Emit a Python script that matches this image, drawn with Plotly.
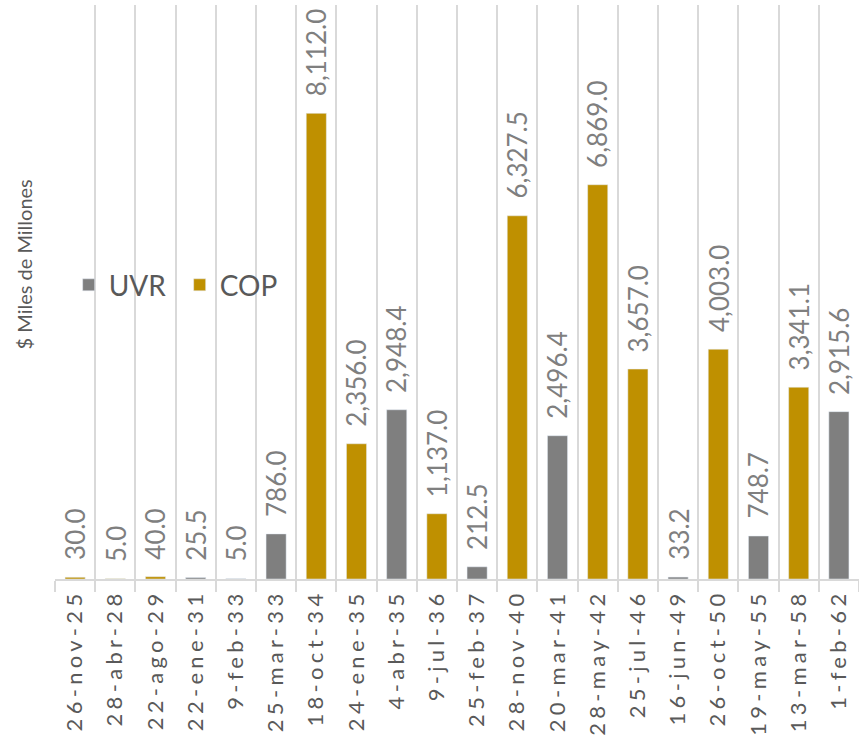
import plotly.graph_objects as go

categories = ["26-nov-25", "28-abr-28", "22-ago-29", "22-ene-31", "9-feb-33", "25-mar-33",
              "18-oct-34", "24-ene-35", "4-abr-35", "9-jul-36", "25-feb-37", "28-nov-40",
              "20-mar-41", "28-may-42", "25-jul-46", "16-jun-49", "26-oct-50", "19-may-55",
              "13-mar-58", "1-feb-62"]
uvr = [None, None, None, 25.5, 5.0, 786.0, None, None, 2948.4, None, 212.5, None,
       2496.4, None, None, 33.2, None, 748.7, None, 2915.6]
cop = [30.0, 5.0, 40.0, None, None, None, 8112.0, 2356.0, None, 1137.0, None, 6327.5,
       None, 6869.0, 3657.0, None, 4003.0, None, 3341.1, None]

FONT = "Lato"

fig = go.Figure()
fig.add_bar(name="UVR", x=categories, y=uvr, marker_color="#7F7F7F", cliponaxis=False)
fig.add_bar(name="COP", x=categories, y=cop, marker_color="#BF9000", cliponaxis=False)

annotations = []
for cat, u, c in zip(categories, uvr, cop):
    v = u if u is not None else c
    annotations.append(dict(x=cat, y=v, xref="x", yref="y", text=f"{v:,.1f}",
                            textangle=-90, showarrow=False, xanchor="center",
                            yanchor="bottom", yshift=15,
                            font=dict(family=FONT, size=26, color="#7F7F7F")))
annotations.append(dict(text="$ Miles de Millones", xref="paper", yref="paper",
                        x=-0.0385, y=0.548, textangle=-90, showarrow=False,
                        xanchor="center", yanchor="middle",
                        font=dict(family=FONT, size=20, color="#595959")))

fig.update_layout(
    width=859, height=743,
    barmode="overlay", bargap=0.5,
    margin=dict(l=55, r=0, t=5, b=164),
    paper_bgcolor="white", plot_bgcolor="white",
    font=dict(family=FONT, color="#595959"),
    showlegend=True,
    legend=dict(x=0.017, y=0.512, xanchor="left", yanchor="middle", orientation="h",
                font=dict(family=FONT, size=28, color="#595959"),
                bgcolor="rgba(0,0,0,0)", itemwidth=30, entrywidth=66),
    annotations=annotations,
)
fig.update_xaxes(type="category", tickson="boundaries", showgrid=True,
                 gridcolor="#D9D9D9", gridwidth=1.5, showline=True, linecolor="#D9D9D9",
                 linewidth=1.5, ticks="outside", ticklen=11, tickcolor="#D9D9D9",
                 tickwidth=1.5, tickangle=-90,
                 tickfont=dict(family=FONT, size=22, color="#595959"))
fig.update_yaxes(range=[0, 10000], visible=False, showgrid=False)

post = ("var s=document.createElement('style');"
        "s.innerHTML='body{margin:0}.xtick text{letter-spacing:4.3px}';"
        "document.head.appendChild(s);")
fig.write_html("out.html", post_script=post, config={"displayModeBar": False})
